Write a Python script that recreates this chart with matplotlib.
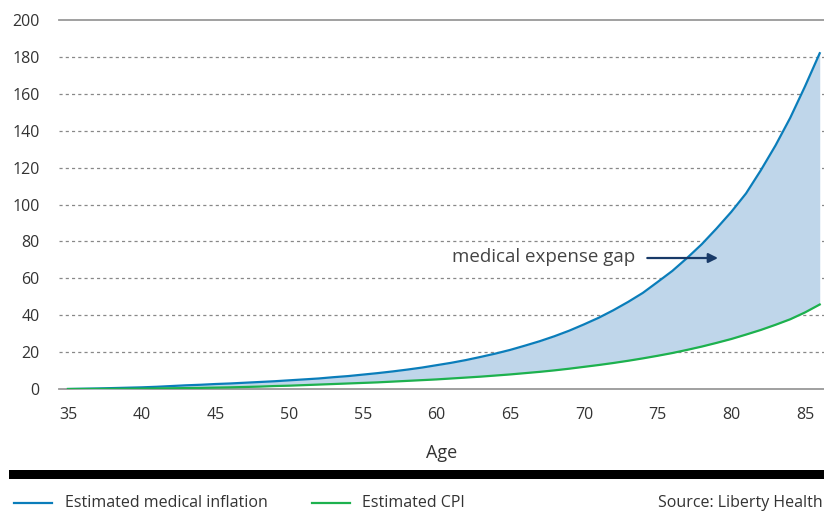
import numpy as np
import matplotlib.pyplot as plt
from matplotlib.patches import Rectangle
from matplotlib.lines import Line2D

plt.rcParams['font.family'] = ['Open Sans', 'DejaVu Sans']

# data (index per year of age)
ages = list(range(35, 87))
medical = [0.0, 0.15, 0.3, 0.5, 0.7, 0.9, 1.2, 1.6, 2.0, 2.3,
           2.7, 3.0, 3.4, 3.8, 4.2, 4.7, 5.2, 5.7, 6.4, 7.0,
           7.8, 8.6, 9.5, 10.5, 11.6, 12.9, 14.2, 15.7, 17.4, 19.2,
           21.2, 23.5, 25.9, 28.6, 31.6, 35.0, 38.6, 42.7, 47.2, 52.1,
           58.0, 64.0, 71.0, 78.5, 87.0, 96.0, 106.0, 118.5, 132.0, 147.0,
           164.0, 182.0]
cpi = [0.0, 0.02, 0.05, 0.1, 0.15, 0.2, 0.3, 0.4, 0.5, 0.6,
       0.75, 0.9, 1.1, 1.3, 1.6, 1.8, 2.1, 2.4, 2.7, 3.0,
       3.3, 3.6, 4.0, 4.4, 4.8, 5.2, 5.7, 6.2, 6.7, 7.3,
       7.9, 8.6, 9.3, 10.1, 11.0, 12.0, 13.0, 14.1, 15.3, 16.6,
       18.0, 19.5, 21.2, 23.0, 25.0, 27.1, 29.5, 32.0, 34.8, 37.8,
       41.5, 45.8]
yticks = [0, 20, 40, 60, 80, 100, 120, 140, 160, 180, 200]
xticks = [35, 40, 45, 50, 55, 60, 65, 70, 75, 80, 85]

blue = '#0a7dba'
green = '#1db14e'
fill = '#bfd6ea'
txt = '#333333'

fig = plt.figure(figsize=(8.24, 5.13), dpi=100)
ax = fig.add_axes([0.0716, 0.2417, 0.9284, 0.7193])

ax.fill_between(ages, cpi, medical, color=fill, lw=0)
ax.plot(ages, medical, color=blue, lw=1.6)
ax.plot(ages, cpi, color=green, lw=1.6)

for y in yticks:
    if y in (0, 200):
        ax.axhline(y, color='#999999', lw=1.3, zorder=0, clip_on=False)
    else:
        ax.axhline(y, color='#888888', lw=0.9, ls=(0, (2.5, 2.5)), zorder=0)

ax.set_xlim(34.39, 86.29)
ax.set_ylim(0, 200)
ax.set_yticks(yticks)
ax.set_xticks(xticks)
ax.tick_params(length=0, labelsize=11.5, labelcolor=txt)
ax.tick_params(axis='y', pad=14)
ax.tick_params(axis='x', pad=13)
for s in ax.spines.values():
    s.set_visible(False)
ax.set_xlabel('Age', fontsize=13, color=txt, labelpad=15)

# annotation
ax.annotate('', xy=(79.1, 71), xytext=(74.3, 71),
            arrowprops=dict(arrowstyle='-|>', color='#183a68', lw=1.6,
                            mutation_scale=14, shrinkA=0, shrinkB=0))
ax.text(73.5, 71.5, 'medical expense gap', ha='right', va='center',
        fontsize=13.5, color='#444444')

# black bar
fig.add_artist(Rectangle((9 / 824, 1 - 479 / 513), 815 / 824, 9 / 513,
                         transform=fig.transFigure, color='black', lw=0))

# legend row
ly = 1 - 503 / 513
fig.add_artist(Line2D([14 / 824, 52 / 824], [ly, ly], color=blue, lw=1.6))
fig.text(65 / 824, ly, 'Estimated medical inflation', ha='left', va='center',
         fontsize=11.5, color=txt)
fig.add_artist(Line2D([312 / 824, 350 / 824], [ly, ly], color=green, lw=1.6))
fig.text(362 / 824, ly, 'Estimated CPI', ha='left', va='center',
         fontsize=11.5, color=txt)
fig.text(823 / 824, ly, 'Source: Liberty Health', ha='right', va='center',
         fontsize=11.5, color=txt)

plt.savefig('out.png', dpi=100)
